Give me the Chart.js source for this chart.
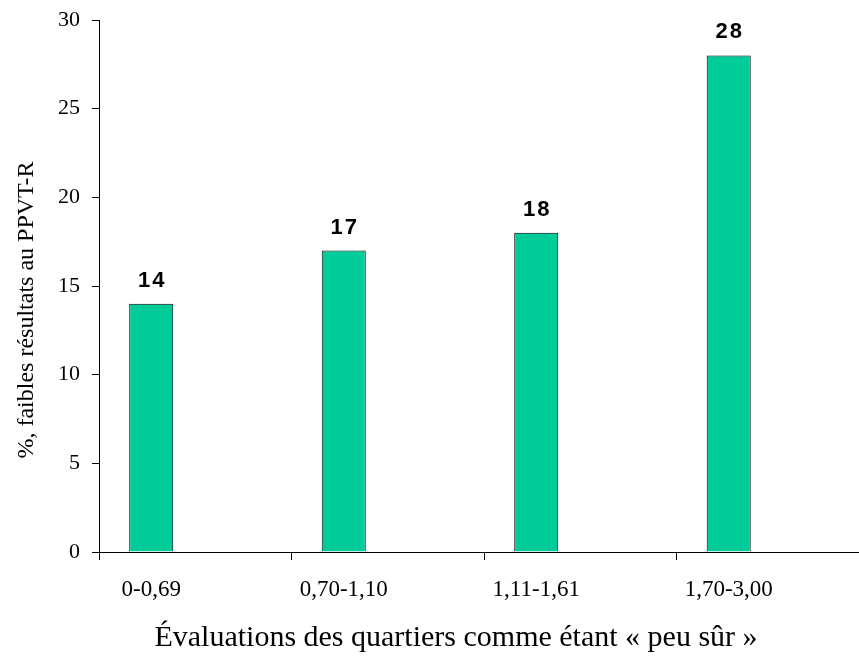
<!DOCTYPE html>
<html>
<head>
<meta charset="utf-8">
<script src="https://cdn.jsdelivr.net/npm/chart.js@4.4.0/dist/chart.umd.min.js"></script>
<style>
  html, body { margin: 0; padding: 0; background: #fff; overflow: hidden; }
  #wrap { width: 880px; height: 656px; position: relative; }
</style>
</head>
<body>
<div id="wrap"><canvas id="chart"></canvas></div>
<script>
// Neighbourhood safety ratings (categories) and share of low PPVT-R scores (%)
const categories = ['0-0,69', '0,70-1,10', '1,11-1,61', '1,70-3,00'];
const lowScoreShare = [14, 17, 18, 28];
// The workbook series sheet holds two further, empty series that keep their slots
const emptySeriesA = [null, null, null, null];
const emptySeriesB = [null, null, null, null];
const yTickValues = [0, 5, 10, 15, 20, 25, 30];

const yTitle = '%, faibles résultats au PPVT-R';
const xTitle = 'Évaluations des quartiers comme étant « peu sûr »';

const serif = "'Liberation Serif', 'Times New Roman', serif";
const sans = "'Liberation Sans', Arial, sans-serif";

// Bold value above each bar, plus the two axis titles
const annotate = {
  id: 'annotate',
  afterDatasetsDraw(chart) {
    const ctx = chart.ctx;
    const meta = chart.getDatasetMeta(0);
    ctx.save();
    ctx.fillStyle = '#000';
    ctx.font = 'bold 22px ' + sans;
    ctx.textAlign = 'center';
    ctx.textBaseline = 'alphabetic';
    ctx.letterSpacing = '2px';
    meta.data.forEach((bar, i) => {
      const v = chart.data.datasets[0].data[i];
      ctx.fillText(String(v), bar.x + 1, bar.y - 17);
    });
    ctx.restore();
  },
  afterDraw(chart) {
    const ctx = chart.ctx;
    ctx.save();
    ctx.fillStyle = '#000';
    ctx.textBaseline = 'alphabetic';
    ctx.textAlign = 'center';
    ctx.font = '30px ' + serif;
    ctx.fillText(xTitle, 456, 646);
    ctx.translate(33, 310);
    ctx.rotate(-Math.PI / 2);
    ctx.font = '24px ' + serif;
    ctx.fillText(yTitle, 0, 0);
    ctx.restore();
  }
};

new Chart(document.getElementById('chart'), {
  type: 'bar',
  data: {
    labels: categories,
    datasets: [
      {
        label: 'Faibles résultats',
        data: lowScoreShare,
        backgroundColor: '#00CC99',
        borderColor: '#000',
        borderWidth: 1,
        borderSkipped: 'bottom'
      },
      { label: '', data: emptySeriesA, backgroundColor: '#00CC99' },
      { label: '', data: emptySeriesB, backgroundColor: '#00CC99' }
    ]
  },
  options: {
    responsive: true,
    maintainAspectRatio: false,
    animation: false,
    events: [],
    layout: { padding: { top: 20, right: 11, left: 0, bottom: 0 } },
    datasets: { bar: { categoryPercentage: 0.686, barPercentage: 1.0 } },
    plugins: {
      legend: { display: false },
      tooltip: { enabled: false }
    },
    scales: {
      x: {
        grid: {
          offset: true,
          drawOnChartArea: false,
          drawTicks: true,
          tickLength: 8,
          color: '#000',
          lineWidth: 1
        },
        border: { display: true, color: '#000', width: 1 },
        ticks: {
          color: '#000',
          font: { family: serif, size: 23 },
          padding: 16,
          labelOffset: -44,
          maxRotation: 0,
          autoSkip: false
        },
        afterFit(scale) {
          scale.height = 104;
          scale.paddingLeft = 0;
          scale.paddingRight = 0;
        }
      },
      y: {
        min: 0,
        max: 30,
        afterBuildTicks(scale) { scale.ticks = yTickValues.map(v => ({ value: v })); },
        grid: {
          drawOnChartArea: false,
          drawTicks: true,
          tickLength: 7,
          color: '#000',
          lineWidth: 1
        },
        border: { display: true, color: '#000', width: 1 },
        ticks: {
          color: '#000',
          font: { family: serif, size: 22 },
          padding: 12
        },
        afterFit(scale) {
          scale.width = 99;
          scale.paddingTop = 0;
          scale.paddingBottom = 0;
        }
      }
    }
  },
  plugins: [annotate]
});
</script>
</body>
</html>
